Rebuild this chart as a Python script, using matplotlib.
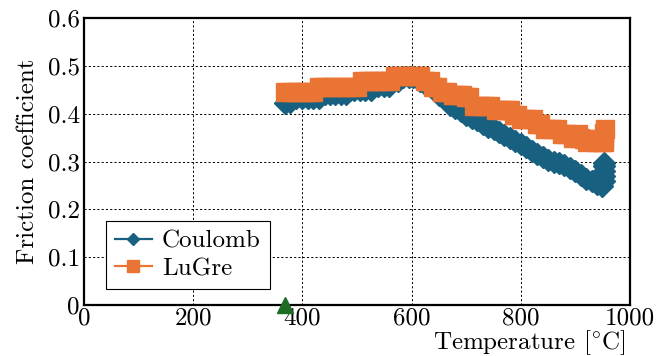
import numpy as np
import matplotlib.pyplot as plt

# Coulomb model friction coefficient vs temperature
temp_coulomb = [369, 378, 388, 400, 410, 420, 430, 441, 450, 460, 470, 480,
                487, 495, 505, 515, 525, 539, 550, 558, 566, 575, 585, 595,
                603, 615, 625, 637, 650, 662, 670, 680, 690, 700, 710, 720,
                730, 740, 750, 760, 770, 780, 790, 800, 810, 820, 830, 840,
                850, 860, 870, 880, 890, 900, 910, 920, 930, 940, 948, 952,
                952, 952, 952, 952]
mu_coulomb = [0.423, 0.425, 0.433, 0.433, 0.433, 0.433, 0.433, 0.441, 0.441, 0.441, 0.441, 0.441,
              0.449, 0.449, 0.449, 0.449, 0.449, 0.458, 0.458, 0.458, 0.469, 0.469, 0.477, 0.477,
              0.477, 0.469, 0.462, 0.455, 0.440, 0.431, 0.418, 0.412, 0.405, 0.397, 0.391, 0.386,
              0.379, 0.373, 0.368, 0.361, 0.355, 0.349, 0.343, 0.336, 0.330, 0.322, 0.316, 0.310,
              0.303, 0.299, 0.296, 0.292, 0.286, 0.280, 0.271, 0.264, 0.259, 0.253, 0.249, 0.260,
              0.270, 0.280, 0.290, 0.297]

# LuGre model friction coefficient vs temperature
temp_lugre = [369, 380, 390, 400, 410, 420, 430, 440, 450, 460, 470, 480, 490, 500,
              510, 520, 530, 540, 550, 560, 570, 580, 590, 600, 610, 616, 625, 634,
              640, 647, 655, 665, 675, 685, 693, 700, 706, 715, 725, 735, 744, 755,
              765, 775, 781, 788, 793, 800, 810, 823, 830, 836, 845, 855, 866, 875,
              885, 895, 905, 909, 915, 921, 930, 940, 948, 953, 953, 953, 954]
mu_lugre = [0.446, 0.446, 0.446, 0.446, 0.446, 0.446, 0.456, 0.456, 0.456, 0.456, 0.456, 0.456, 0.456, 0.456,
            0.468, 0.468, 0.468, 0.468, 0.468, 0.468, 0.479, 0.479, 0.479, 0.479, 0.479, 0.479, 0.468, 0.468,
            0.456, 0.456, 0.446, 0.446, 0.438, 0.438, 0.438, 0.434, 0.434, 0.417, 0.417, 0.417, 0.417, 0.407,
            0.407, 0.407, 0.407, 0.398, 0.398, 0.388, 0.388, 0.388, 0.378, 0.378, 0.367, 0.367, 0.367, 0.357,
            0.357, 0.350, 0.357, 0.350, 0.348, 0.341, 0.348, 0.341, 0.341, 0.341, 0.350, 0.360, 0.367]

# single reference point on the axis
temp_ref = [368]
mu_ref = [0.0]

xticks = [0, 200, 400, 600, 800, 1000]
yticks = [0, 0.1, 0.2, 0.3, 0.4, 0.5, 0.6]
ytick_labels = ['0', '0.1', '0.2', '0.3', '0.4', '0.5', '0.6']

plt.rcParams['font.family'] = 'serif'
plt.rcParams['font.serif'] = ['cmr10', 'DejaVu Serif']
plt.rcParams['mathtext.fontset'] = 'cm'
plt.rcParams['font.size'] = 18

blue = '#17607f'
orange = '#ea7434'
green = '#1e6b26'

fig = plt.figure(figsize=(6.62, 3.56), dpi=100)
ax = fig.add_axes([84 / 662, 51 / 356, 546 / 662, 287 / 356])

ax.plot(temp_coulomb, mu_coulomb, color=blue, marker='D', ms=10.8, lw=1.6,
        label='Coulomb', zorder=3)
ax.plot(temp_lugre, mu_lugre, color=orange, marker='s', ms=13.5, lw=1.6,
        label='LuGre', zorder=4)
ax.plot(temp_ref, mu_ref, color=green, marker='^', ms=12, lw=0,
        clip_on=False, zorder=5)

ax.set_xlim(0, 1000)
ax.set_ylim(0, 0.6)
ax.set_xticks(xticks)
ax.set_xticklabels([str(t) for t in xticks])
ax.set_yticks(yticks)
ax.set_yticklabels(ytick_labels)
ax.tick_params(axis='x', length=0, pad=2)
ax.tick_params(axis='y', length=0, pad=3)

ax.grid(True, color='black', linestyle=(0, (2.2, 2.2)), linewidth=0.7)
ax.set_axisbelow(True)
for sp in ax.spines.values():
    sp.set_linewidth(1.6)

ax.set_xlabel(r'Temperature $[^{\circ}\mathrm{C}]$')
ax.xaxis.set_label_coords(0.815, -0.08)
ax.set_ylabel('Friction coefficient')
ax.yaxis.set_label_coords(-0.082, 0.5)

leg = ax.legend(loc='lower left', bbox_to_anchor=(0.04, 0.056), markerscale=0.6,
                fancybox=False, edgecolor='black', framealpha=1,
                handlelength=1.5, borderpad=0.35, labelspacing=0.2,
                handletextpad=0.4, borderaxespad=0)
leg.get_frame().set_linewidth(0.8)

plt.savefig('out.png', dpi=100)
